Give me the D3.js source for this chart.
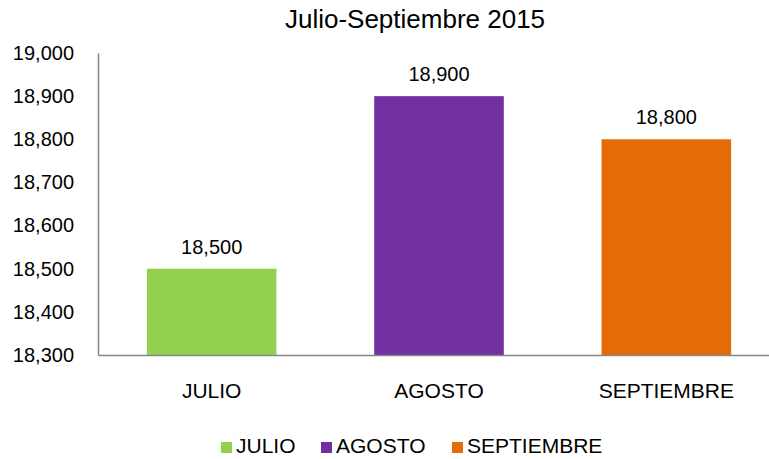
<!DOCTYPE html>
<html>
<head>
<meta charset="utf-8">
<script src="https://cdn.jsdelivr.net/npm/d3@7"></script>
<style>
  body { margin: 0; background: #fff; }
  text { font-family: "Liberation Sans", Arial, sans-serif; fill: #000; }
</style>
</head>
<body>
<div id="chart"></div>
<script>
// Datos
const meses = ["JULIO", "AGOSTO", "SEPTIEMBRE"];
const valores = [18500, 18900, 18800];
const colores = ["#92D050", "#7030A0", "#E36C09"];
const ticksY = [18300, 18400, 18500, 18600, 18700, 18800, 18900, 19000];
const titulo = "Julio-Septiembre 2015";

const W = 769, H = 459;
const margin = { top: 53, right: -11, bottom: 104, left: 98 },
      width = W - margin.left - margin.right,
      height = H - margin.top - margin.bottom;

const svgRoot = d3.select("#chart")
  .append("svg")
    .attr("width", W)
    .attr("height", H);

const svg = svgRoot.append("g")
    .attr("transform", `translate(${margin.left},${margin.top})`);

// Título
svgRoot.append("text")
  .attr("x", 415)
  .attr("y", 28)
  .attr("text-anchor", "middle")
  .style("font-size", "26px")
  .text(titulo);

// Escalas
const x = d3.scaleBand()
  .domain(meses)
  .range([0, width])
  .paddingInner(0.43)
  .paddingOuter(0.215);

const y = d3.scaleLinear()
  .domain([18300, 19000])
  .range([height, 0]);

const fmt = d3.format(",");
const fuente = "Liberation Sans, Arial, sans-serif";

// Eje Y
const ejeY = svg.append("g")
  .call(d3.axisLeft(y).tickValues(ticksY).tickSize(0).tickPadding(24).tickFormat(fmt));
ejeY.select(".domain").attr("stroke", "#868686").attr("stroke-width", 1.5);
ejeY.selectAll("text").style("font-size", "20px").style("font-family", fuente).attr("fill", "#000");

// Barras
svg.selectAll("rect.bar")
  .data(meses)
  .enter()
  .append("rect")
    .attr("class", "bar")
    .attr("x", d => x(d))
    .attr("y", (d, i) => y(valores[i]))
    .attr("width", x.bandwidth())
    .attr("height", (d, i) => height - y(valores[i]))
    .attr("fill", (d, i) => colores[i]);

// Eje X
const ejeX = svg.append("g")
  .attr("transform", `translate(0,${height})`)
  .call(d3.axisBottom(x).tickSize(0).tickPadding(28));
ejeX.select(".domain").attr("stroke", "#868686").attr("stroke-width", 1.5);
ejeX.selectAll("text").style("font-size", "21px").style("font-family", fuente).attr("fill", "#000");

// Etiquetas de datos
svg.selectAll("text.label")
  .data(meses)
  .enter()
  .append("text")
    .attr("class", "label")
    .attr("x", d => x(d) + x.bandwidth() / 2)
    .attr("y", (d, i) => y(valores[i]) - 15)
    .attr("text-anchor", "middle")
    .style("font-size", "20px")
    .text((d, i) => fmt(valores[i]));

// Leyenda
const leyendaX = [221, 321, 452];
const leyenda = svgRoot.append("g").attr("transform", "translate(0,442)");
meses.forEach((m, i) => {
  leyenda.append("rect")
    .attr("x", leyendaX[i])
    .attr("y", 0)
    .attr("width", 11)
    .attr("height", 11)
    .attr("fill", colores[i]);
  leyenda.append("text")
    .attr("x", leyendaX[i] + 15)
    .attr("y", 11)
    .style("font-size", "21px")
    .text(m);
});
</script>
</body>
</html>
